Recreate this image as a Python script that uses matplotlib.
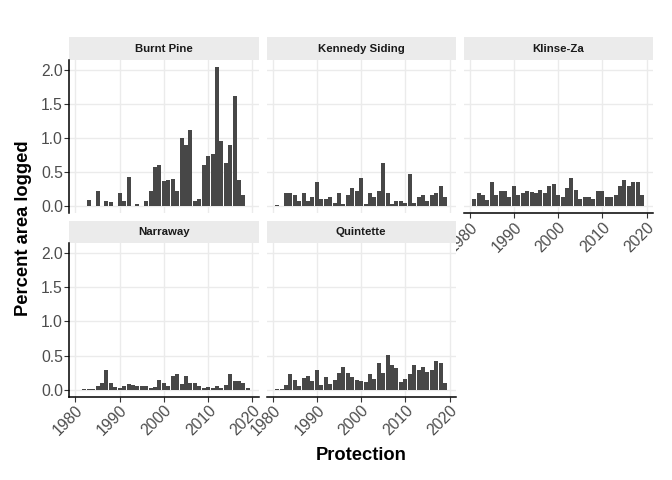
import matplotlib.pyplot as plt

plt.rcParams['font.family'] = ['Liberation Sans', 'DejaVu Sans']

years = list(range(1981, 2020))

burnt_pine = [0, 0, 0.09, 0, 0.22, 0, 0.07, 0.06, 0, 0.19,
              0.07, 0.43, 0, 0.04, 0, 0.07, 0.23, 0.57, 0.60, 0.37,
              0.38, 0.40, 0.23, 1.00, 0.90, 1.12, 0.08, 0.11, 0.61, 0.73,
              0.76, 2.04, 0.96, 0.63, 0.90, 1.62, 0.39, 0.16, 0]
kennedy_siding = [0.025, 0.01, 0.19, 0.19, 0.17, 0.07, 0.20, 0.07, 0.14, 0.35,
                  0.10, 0.10, 0.14, 0.05, 0.20, 0.04, 0.17, 0.27, 0.23, 0.42,
                  0.04, 0.20, 0.13, 0.22, 0.64, 0.20, 0.04, 0.07, 0.07, 0.05,
                  0.47, 0.05, 0.13, 0.17, 0.07, 0.16, 0.20, 0.29, 0.13]
klinse_za = [0.10, 0.20, 0.16, 0.09, 0.35, 0.17, 0.22, 0.22, 0.14, 0.29,
             0.16, 0.20, 0.23, 0.21, 0.20, 0.24, 0.20, 0.29, 0.32, 0.17,
             0.14, 0.26, 0.42, 0.24, 0.10, 0.13, 0.13, 0.10, 0.23, 0.23,
             0.13, 0.13, 0.16, 0.29, 0.38, 0.29, 0.35, 0.36, 0.17]
narraway = [0, 0.005, 0.01, 0.01, 0.05, 0.09, 0.29, 0.09, 0.04, 0.03,
            0.05, 0.08, 0.07, 0.05, 0.05, 0.05, 0.02, 0.04, 0.14, 0.10,
            0.05, 0.20, 0.23, 0.08, 0.20, 0.09, 0.10, 0.05, 0.02, 0.04,
            0.02, 0.05, 0.02, 0.07, 0.23, 0.13, 0.13, 0.10, 0.03]
quintette = [0.005, 0.005, 0.065, 0.23, 0.14, 0.05, 0.17, 0.20, 0.12, 0.29,
             0.065, 0.18, 0.08, 0.14, 0.24, 0.33, 0.24, 0.18, 0.14, 0.12,
             0.11, 0.23, 0.15, 0.39, 0.24, 0.51, 0.36, 0.32, 0.11, 0.15,
             0.23, 0.36, 0.29, 0.33, 0.26, 0.29, 0.42, 0.39, 0.09]

sites = ['Burnt Pine', 'Kennedy Siding', 'Klinse-Za', 'Narraway', 'Quintette']
site_values = [burnt_pine, kennedy_siding, klinse_za, narraway, quintette]

x_ticks = [1980, 1990, 2000, 2010, 2020]
y_ticks = [0.0, 0.5, 1.0, 1.5, 2.0]

W, H = 672, 480
fig = plt.figure(figsize=(W / 100, H / 100), dpi=100)


def px_axes(x, y, w, h):
    # pixel box measured from the top-left corner
    return fig.add_axes([x / W, 1 - (y + h) / H, w / W, h / H])


col_left = [69.3, 266.5, 463.5]
row_top = [37.3, 220.7]
panel_w = 189.2
strip_h = 22.7
panel_h = 153.2

ymax = max(max(v) for v in site_values)
ylim = (-0.05 * ymax, 1.05 * ymax)
span = max(years) - min(years) + 0.9
xlim = (min(years) - 0.45 - 0.05 * span, max(years) + 0.45 + 0.05 * span)

for i, (site, values) in enumerate(zip(sites, site_values)):
    row, col = divmod(i, 3)
    x0 = col_left[col]
    y0 = row_top[row]

    strip = px_axes(x0, y0, panel_w, strip_h)
    strip.set_facecolor('#EBEBEB')
    strip.set_xticks([])
    strip.set_yticks([])
    for s in strip.spines.values():
        s.set_visible(False)
    strip.text(0.5, 0.5, site, ha='center', va='center', fontsize=8.2,
               fontweight='bold', color='#1A1A1A', transform=strip.transAxes)

    ax = px_axes(x0, y0 + strip_h, panel_w, panel_h)
    ax.bar(years, values, width=0.9, color='#474747', zorder=2)
    ax.set_xlim(*xlim)
    ax.set_ylim(*ylim)
    ax.set_xticks(x_ticks)
    ax.set_yticks(y_ticks)
    ax.grid(True, color='#EBEBEB', linewidth=1.0, zorder=0)
    ax.set_axisbelow(True)
    for s in ax.spines.values():
        s.set_visible(False)

    has_x = (row == 1) or (i == 2)
    has_y = col == 0

    ax.tick_params(axis='both', colors='#333333', width=0.8, length=3.4,
                   labelsize=11.3, labelcolor='#4D4D4D', pad=1.2)
    if has_y:
        ax.spines['left'].set_visible(True)
        ax.spines['left'].set_linewidth(1.1)
        ax.spines['left'].set_color('black')
        ax.set_yticklabels([f'{t:.1f}' for t in y_ticks])
    else:
        ax.tick_params(axis='y', length=0, labelleft=False)
    if has_x:
        ax.spines['bottom'].set_visible(True)
        ax.spines['bottom'].set_linewidth(1.1)
        ax.spines['bottom'].set_color('black')
        ax.set_xticklabels([str(t) for t in x_ticks], rotation=45, ha='right',
                           va='top', rotation_mode='anchor')
    else:
        ax.tick_params(axis='x', length=0, labelbottom=False)

fig.text(361 / W, 1 - 455 / H, 'Protection', ha='center', va='center',
         fontsize=13.2, fontweight='bold')
fig.text(24 / W, 1 - 228 / H, 'Percent area logged', ha='center', va='center',
         rotation=90, fontsize=13.2, fontweight='bold')

fig.savefig('out.png', dpi=100)
